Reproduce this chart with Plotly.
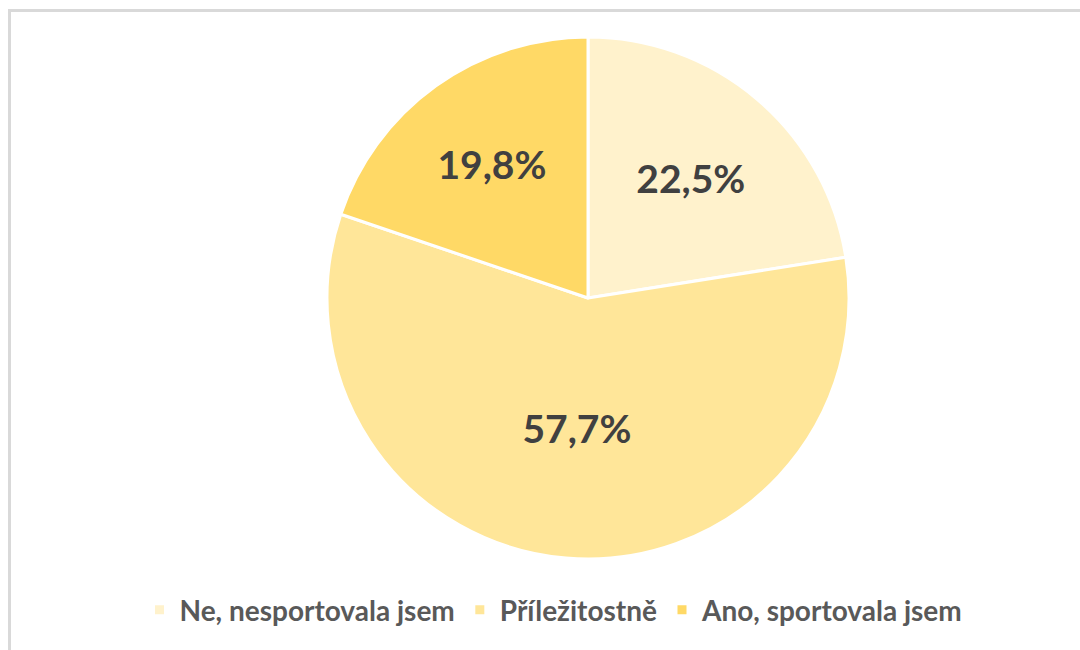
import plotly.graph_objects as go

categories = ["Ne, nesportovala jsem", "Příležitostně", "Ano, sportovala jsem"]
values = [22.5, 57.7, 19.8]
colors = ["#FFF2CC", "#FFE699", "#FFD966"]

labels_text = [f"{v:.1f}".replace(".", ",") + "%" for v in values]

W, H = 1080, 650
cx, cy, R = 588, 298, 261

fig = go.Figure(
    go.Pie(
        labels=categories,
        values=values,
        text=labels_text,
        texttemplate="%{text}",
        textposition="inside",
        insidetextorientation="horizontal",
        textfont=dict(family="Lato", size=39, color="#404040", weight="bold"),
        marker=dict(colors=colors, line=dict(color="#FFFFFF", width=3)),
        sort=False,
        direction="clockwise",
        rotation=0,
        hole=0,
        domain=dict(x=[(cx - R) / W, (cx + R) / W], y=[1 - (cy + R) / H, 1 - (cy - R) / H]),
    )
)

fig.update_layout(
    width=W,
    height=H,
    margin=dict(l=0, r=0, t=0, b=0),
    paper_bgcolor="#FFFFFF",
    plot_bgcolor="#FFFFFF",
    showlegend=True,
    legend=dict(
        orientation="h",
        x=554 / W,
        xanchor="center",
        y=1 - 610 / H,
        yanchor="middle",
        font=dict(family="Lato", size=28, color="#595959", weight="bold"),
        itemclick=False,
    ),
    shapes=[
        dict(
            type="rect",
            xref="paper",
            yref="paper",
            x0=9.5 / W,
            x1=1.02,
            y0=-0.02,
            y1=1 - 10.5 / H,
            line=dict(color="#D9D9D9", width=3),
            fillcolor="rgba(0,0,0,0)",
            layer="below",
        )
    ],
)

fig.write_html("out.html")
